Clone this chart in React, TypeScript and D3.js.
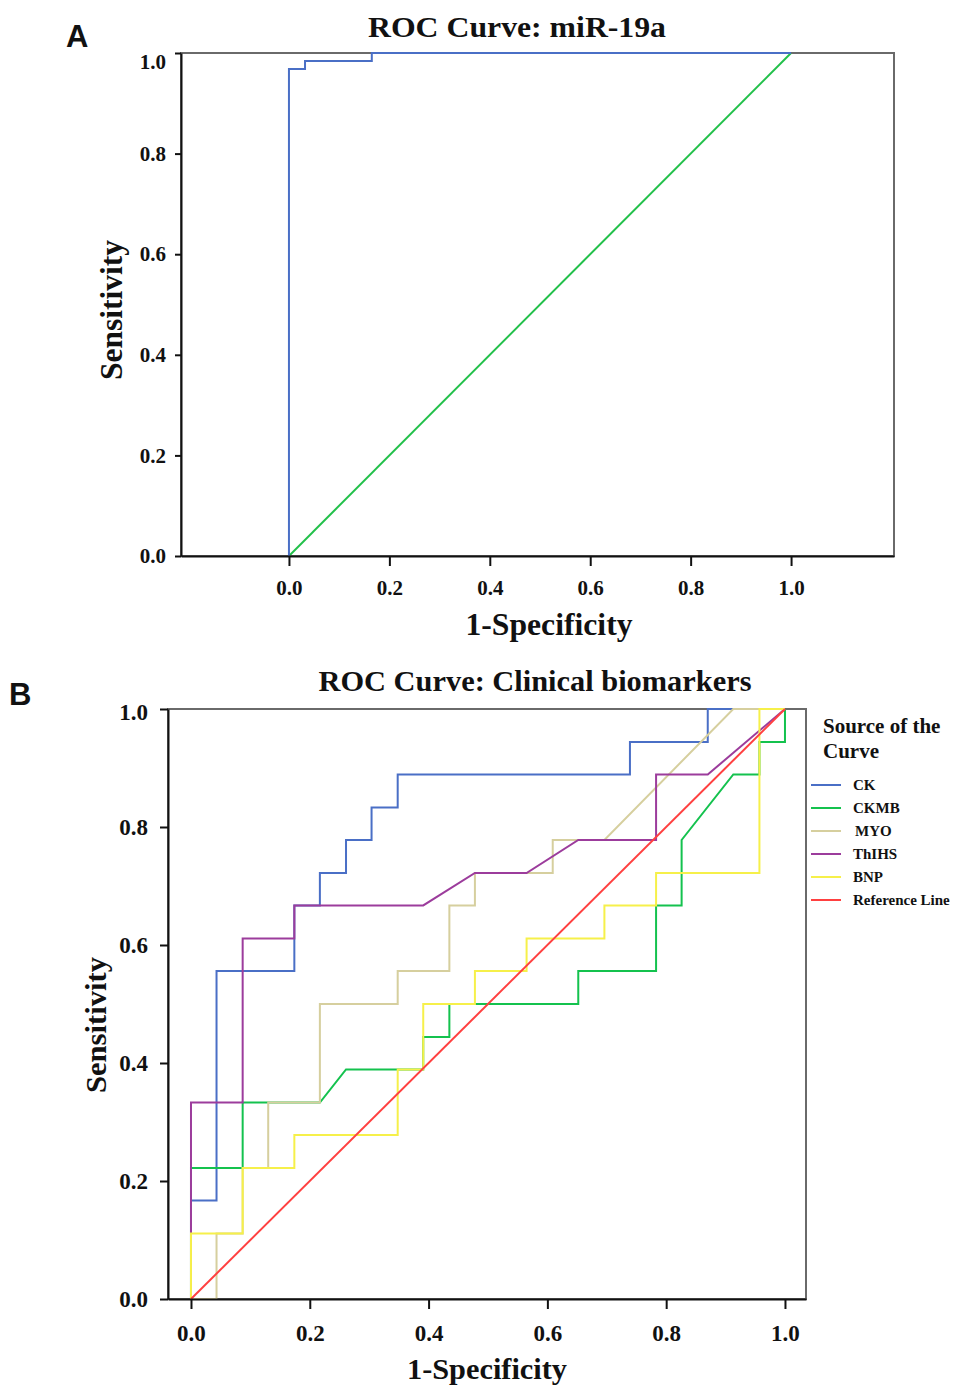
import React, { useEffect, useRef } from 'react';
import * as d3 from 'd3';

// ---- Panel A: miR-19a ----
const mirFpr = [0, 0, 0.032, 0.032, 0.165, 0.165, 1];
const mirTpr = [0, 0.968, 0.968, 0.984, 0.984, 1, 1];

// ---- Panel B: clinical biomarkers ----
const ckFpr = [0, 0, 0.043, 0.043, 0.174, 0.174, 0.217, 0.217, 0.261, 0.261, 0.304, 0.304, 0.348, 0.348, 0.739, 0.739, 0.87, 0.87, 1];
const ckTpr = [0, 0.167, 0.167, 0.556, 0.556, 0.667, 0.667, 0.722, 0.722, 0.778, 0.778, 0.833, 0.833, 0.889, 0.889, 0.944, 0.944, 1, 1];

const ckmbFpr = [0, 0, 0.087, 0.087, 0.217, 0.261, 0.391, 0.391, 0.435, 0.435, 0.652, 0.652, 0.783, 0.783, 0.826, 0.826, 0.913, 0.957, 0.957, 1, 1];
const ckmbTpr = [0, 0.222, 0.222, 0.333, 0.333, 0.389, 0.389, 0.444, 0.444, 0.5, 0.5, 0.556, 0.556, 0.667, 0.667, 0.778, 0.889, 0.889, 0.944, 0.944, 1];

const myoFpr = [0, 0.043, 0.043, 0.087, 0.087, 0.13, 0.13, 0.217, 0.217, 0.348, 0.348, 0.435, 0.435, 0.478, 0.478, 0.609, 0.609, 0.696, 0.913, 1];
const myoTpr = [0, 0, 0.111, 0.111, 0.222, 0.222, 0.333, 0.333, 0.5, 0.5, 0.556, 0.556, 0.667, 0.667, 0.722, 0.722, 0.778, 0.778, 1, 1];

const thihsFpr = [0, 0, 0.087, 0.087, 0.174, 0.174, 0.391, 0.478, 0.565, 0.652, 0.783, 0.783, 0.87, 1];
const thihsTpr = [0, 0.333, 0.333, 0.611, 0.611, 0.667, 0.667, 0.722, 0.722, 0.778, 0.778, 0.889, 0.889, 1];

const bnpFpr = [0, 0, 0.087, 0.087, 0.174, 0.174, 0.348, 0.348, 0.391, 0.391, 0.478, 0.478, 0.565, 0.565, 0.696, 0.696, 0.783, 0.783, 0.957, 0.957, 1];
const bnpTpr = [0, 0.111, 0.111, 0.222, 0.222, 0.278, 0.278, 0.389, 0.389, 0.5, 0.5, 0.556, 0.556, 0.611, 0.611, 0.667, 0.667, 0.722, 0.722, 1, 1];

const refFpr = [0, 1];
const refTpr = [0, 1];

const tickValues = [0, 0.2, 0.4, 0.6, 0.8, 1.0];
const legendNames = ['CK', 'CKMB', 'MYO', 'ThIHS', 'BNP', 'Reference Line'];
const legendColors = ['#4a6fc6', '#14c24e', '#d6cf9e', '#9c3c9c', '#f6f04a', '#ff4040'];

const SERIF = '"Liberation Serif", "Times New Roman", serif';
const SANS = '"Liberation Sans", Arial, sans-serif';

const App = () => {
  const svgRef = useRef(null);

  useEffect(() => {
    const svg = d3.select(svgRef.current);
    svg.selectAll('.plot').remove();

    const toPts = (xs, ys) => xs.map((x, i) => [x, ys[i]]);

    const drawPanel = (g, x, y, cfg) => {
      // frame
      const [x0, x1] = x.range();
      const [yb, yt] = y.range();
      g.append('rect')
        .attr('x', x0).attr('y', yt)
        .attr('width', x1 - x0).attr('height', yb - yt)
        .attr('fill', 'none').attr('stroke', '#6a6a6a').attr('stroke-width', 2);

      const line = d3.line().x(d => x(d[0])).y(d => y(d[1]));
      cfg.series.forEach(s => {
        g.append('path')
          .attr('d', line(toPts(s.fx, s.ty)))
          .attr('fill', 'none')
          .attr('stroke', s.color)
          .attr('stroke-width', 2);
      });

      const xAxis = d3.axisBottom(x)
        .tickValues(tickValues)
        .tickFormat(d3.format('.1f'))
        .tickSize(10)
        .tickSizeOuter(0)
        .tickPadding(cfg.xPad);
      const yAxis = d3.axisLeft(y)
        .tickValues(tickValues)
        .tickFormat(d3.format('.1f'))
        .tickSize(cfg.yTick)
        .tickSizeOuter(0)
        .tickPadding(cfg.yPad);

      const gx = g.append('g').attr('transform', `translate(0,${yb})`).call(xAxis);
      const gy = g.append('g').attr('transform', `translate(${x0},0)`).call(yAxis);
      [gx, gy].forEach(a => {
        a.select('.domain').attr('stroke', '#111').attr('stroke-width', 2);
        a.selectAll('.tick line').attr('stroke', '#111').attr('stroke-width', 2);
        a.selectAll('text')
          .attr('font-family', SERIF)
          .attr('font-weight', 'bold')
          .attr('font-size', cfg.tickFont)
          .attr('fill', '#111');
      });
      gy.selectAll('.tick text').filter(d => d === 1).attr('dy', cfg.topShift);
    };

    // Panel A
    const xA = d3.scaleLinear().domain([-0.215, 1.205]).range([181, 894]);
    const yA = d3.scaleLinear().domain([0, 1]).range([556, 53]);
    drawPanel(svg.append('g').attr('class', 'plot'), xA, yA, {
      series: [
        { fx: refFpr, ty: refTpr, color: '#22c04a' },
        { fx: mirFpr, ty: mirTpr, color: '#4a6fc6' },
      ],
      xPad: 14, yPad: 9, yTick: 6, tickFont: 21, topShift: '0.75em',
    });

    // Panel B
    const xB = d3.scaleLinear().domain([-0.0387, 1.0354]).range([168, 806]);
    const yB = d3.scaleLinear().domain([0, 1]).range([1299, 709]);
    const bSeries = [
      [ckFpr, ckTpr], [ckmbFpr, ckmbTpr], [myoFpr, myoTpr],
      [thihsFpr, thihsTpr], [bnpFpr, bnpTpr], [refFpr, refTpr],
    ].map((s, i) => ({ fx: s[0], ty: s[1], color: legendColors[i] }));
    drawPanel(svg.append('g').attr('class', 'plot'), xB, yB, {
      series: bSeries,
      xPad: 16, yPad: 12, yTick: 8, tickFont: 23, topShift: '0.45em',
    });

    // legend
    const lg = svg.append('g').attr('class', 'plot');
    const legY = d3.scalePoint().domain(legendNames).range([785, 900]);
    legendNames.forEach((n, i) => {
      lg.append('line')
        .attr('x1', 811).attr('x2', 841)
        .attr('y1', legY(n)).attr('y2', legY(n))
        .attr('stroke', legendColors[i]).attr('stroke-width', 2);
      lg.append('text')
        .attr('x', n === 'MYO' ? 855 : 853)
        .attr('y', legY(n) + 5)
        .attr('font-family', SERIF).attr('font-weight', 'bold')
        .attr('font-size', 15).attr('fill', '#111')
        .text(n);
    });
  }, []);

  const boldSerif = { fontFamily: SERIF, fontWeight: 'bold', fill: '#111' };

  return (
    <svg
      ref={svgRef}
      width={953}
      height={1385}
      style={{ position: 'absolute', left: 0, top: 0, background: '#fff' }}
    >
      <rect x={0} y={0} width={953} height={1385} fill="#fff" />
      {/* panel A */}
      <text x={66} y={47} fontFamily={SANS} fontWeight="bold" fontSize={31} fill="#111">A</text>
      <text x={517} y={37} textAnchor="middle" fontSize={30} textLength={298} lengthAdjust="spacingAndGlyphs" style={boldSerif}>ROC Curve: miR-19a</text>
      <text x={549} y={635} textAnchor="middle" fontSize={31} textLength={167} lengthAdjust="spacingAndGlyphs" style={boldSerif}>1-Specificity</text>
      <text transform="translate(111,310) rotate(-90)" dy="0.35em" textAnchor="middle" fontSize={31} textLength={140} lengthAdjust="spacingAndGlyphs" style={boldSerif}>Sensitivity</text>

      {/* panel B */}
      <text x={9} y={705} fontFamily={SANS} fontWeight="bold" fontSize={31} fill="#111">B</text>
      <text x={535} y={691} textAnchor="middle" fontSize={30} textLength={433} lengthAdjust="spacingAndGlyphs" style={boldSerif}>ROC Curve: Clinical biomarkers</text>
      <text x={487} y={1379} textAnchor="middle" fontSize={30} textLength={160} lengthAdjust="spacingAndGlyphs" style={boldSerif}>1-Specificity</text>
      <text transform="translate(95,1025) rotate(-90)" dy="0.35em" textAnchor="middle" fontSize={30} textLength={136} lengthAdjust="spacingAndGlyphs" style={boldSerif}>Sensitivity</text>
      <text x={823} y={733} fontSize={21} style={boldSerif}>Source of the</text>
      <text x={823} y={758} fontSize={21} style={boldSerif}>Curve</text>
    </svg>
  );
};

export default App;
